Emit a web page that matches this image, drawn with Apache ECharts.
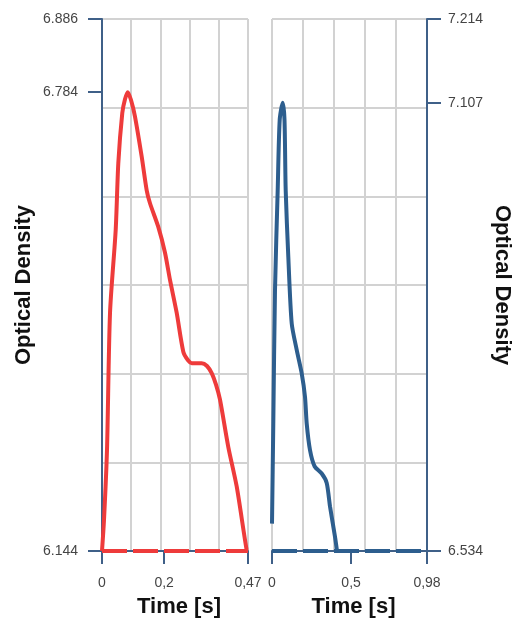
<!DOCTYPE html>
<html>
<head>
<meta charset="utf-8">
<script src="https://cdn.jsdelivr.net/npm/echarts@6/dist/echarts.min.js"></script>
<style>
html,body{margin:0;padding:0;background:#fff;}
#chart{width:518px;height:623px;}
</style>
</head>
<body>
<div id="chart"></div>
<script>
// Left panel (red)
const redTime = [0, 0.0064, 0.0161, 0.0258, 0.0441, 0.0525, 0.0653, 0.0740, 0.0827, 0.0934, 0.1062, 0.1278, 0.1439, 0.1545, 0.1812, 0.2028, 0.2189, 0.2405, 0.2617, 0.2769, 0.2888, 0.3209, 0.3380, 0.3531, 0.3670, 0.3799, 0.4066, 0.4336, 0.4658, 0.47];
const redOD   = [6.144, 6.187, 6.285, 6.476, 6.592, 6.685, 6.755, 6.774, 6.784, 6.773, 6.750, 6.694, 6.647, 6.629, 6.596, 6.560, 6.522, 6.476, 6.422, 6.410, 6.406, 6.406, 6.402, 6.392, 6.376, 6.355, 6.289, 6.234, 6.145, 6.144];
const redYTicks = [6.144, 6.784, 6.886];
const redXTicks = [0, 0.2, 0.47];

// Right panel (blue)
const blueTime = [0, 0.0082, 0.019, 0.036, 0.0487, 0.0677, 0.079, 0.0866, 0.1031, 0.1246, 0.1562, 0.1878, 0.2087, 0.2194, 0.2403, 0.2700, 0.3143, 0.3459, 0.3667, 0.3984, 0.411];
const blueOD   = [6.569, 6.697, 6.868, 6.995, 7.085, 7.107, 7.085, 6.995, 6.910, 6.825, 6.791, 6.761, 6.731, 6.697, 6.663, 6.642, 6.633, 6.621, 6.591, 6.552, 6.534];
const blueYTicks = [6.534, 7.107, 7.214];
const blueXTicks = [0, 0.5, 0.98];

const xName = 'Time [s]';
const yName = 'Optical Density';

const RED = '#ee3b3b';
const BLUE = '#2d5e8e';
const AXIS = '#3f6088';
const GRIDC = '#d2d2d2';
const FONT = 'Liberation Sans, Arial, sans-serif';

function zip(a, b) { return a.map((v, i) => [v, b[i]]); }
const commaFmt = v => String(+v.toFixed(2)).replace('.', ',');
const yFmt = v => v.toFixed(3);

function dataX(gridIndex, max, ticks) {
  return {
    gridIndex, type: 'value', min: 0, max: max, position: 'bottom', z: 3,
    axisLine: { show: true, onZero: false, lineStyle: { color: AXIS, width: 2 } },
    axisTick: { show: true, customValues: ticks, length: 13, lineStyle: { color: AXIS, width: 2 } },
    axisLabel: { customValues: ticks, formatter: commaFmt, margin: 25, color: '#444', fontSize: 14, fontFamily: FONT, showMinLabel: true, showMaxLabel: true },
    splitLine: { show: false },
    name: xName, nameLocation: 'middle', nameGap: 45,
    nameTextStyle: { fontSize: 22, fontWeight: 'bold', color: '#111', fontFamily: FONT, padding: [0, 0, 0, 8] }
  };
}
function dataY(gridIndex, min, max, ticks, pos) {
  return {
    gridIndex, type: 'value', min: min, max: max, position: pos, z: 3,
    axisLine: { show: true, onZero: false, lineStyle: { color: AXIS, width: 2 } },
    axisTick: { show: true, customValues: ticks, length: 14, lineStyle: { color: AXIS, width: 2 } },
    axisLabel: { customValues: ticks, formatter: yFmt, margin: pos === 'left' ? 24 : 21, color: '#444', fontSize: 14, fontFamily: FONT, showMinLabel: true, showMaxLabel: true },
    splitLine: { show: false },
    name: yName, nameLocation: 'middle', nameGap: pos === 'left' ? 67 : 64,
    nameRotate: pos === 'left' ? 90 : -90,
    nameTextStyle: { fontSize: 22, fontWeight: 'bold', color: '#111', fontFamily: FONT }
  };
}
function helperAxis(gridIndex, max) {
  return {
    gridIndex, type: 'value', min: 0, max: max, interval: 1, z: 0,
    axisLine: { show: false }, axisTick: { show: false }, axisLabel: { show: false },
    splitLine: { show: true, lineStyle: { color: GRIDC, width: 2 } }
  };
}

const option = {
  animation: false,
  backgroundColor: '#fff',
  grid: [
    { left: 102, top: 19, width: 146, height: 532 },
    { left: 272, top: 19, width: 155, height: 532 }
  ],
  xAxis: [
    dataX(0, 0.47, redXTicks),
    dataX(1, 0.98, blueXTicks),
    helperAxis(0, 5),
    helperAxis(1, 5)
  ],
  yAxis: [
    dataY(0, 6.144, 6.886, redYTicks, 'left'),
    dataY(1, 6.534, 7.214, blueYTicks, 'right'),
    helperAxis(0, 6),
    helperAxis(1, 6)
  ],
  series: [
    {
      type: 'line', xAxisIndex: 0, yAxisIndex: 0, data: [[0, redYTicks[0]], [redXTicks[2], redYTicks[0]]],
      showSymbol: false, lineStyle: { color: RED, width: 4, type: [25, 6] }, z: 4
    },
    {
      type: 'line', xAxisIndex: 0, yAxisIndex: 0, data: zip(redTime, redOD),
      showSymbol: false, smooth: 0.25, lineStyle: { color: RED, width: 4 }, z: 5
    },
    {
      type: 'line', xAxisIndex: 1, yAxisIndex: 1, data: [[0, blueYTicks[0]], [blueXTicks[2], blueYTicks[0]]],
      showSymbol: false, lineStyle: { color: BLUE, width: 4, type: [25, 6] }, z: 4
    },
    {
      type: 'line', xAxisIndex: 1, yAxisIndex: 1, data: zip(blueTime, blueOD),
      showSymbol: false, smooth: 0.25, lineStyle: { color: BLUE, width: 4 }, z: 5
    }
  ]
};

const chart = echarts.init(document.getElementById('chart'), null, { renderer: 'canvas' });
chart.setOption(option);
</script>
</body>
</html>
